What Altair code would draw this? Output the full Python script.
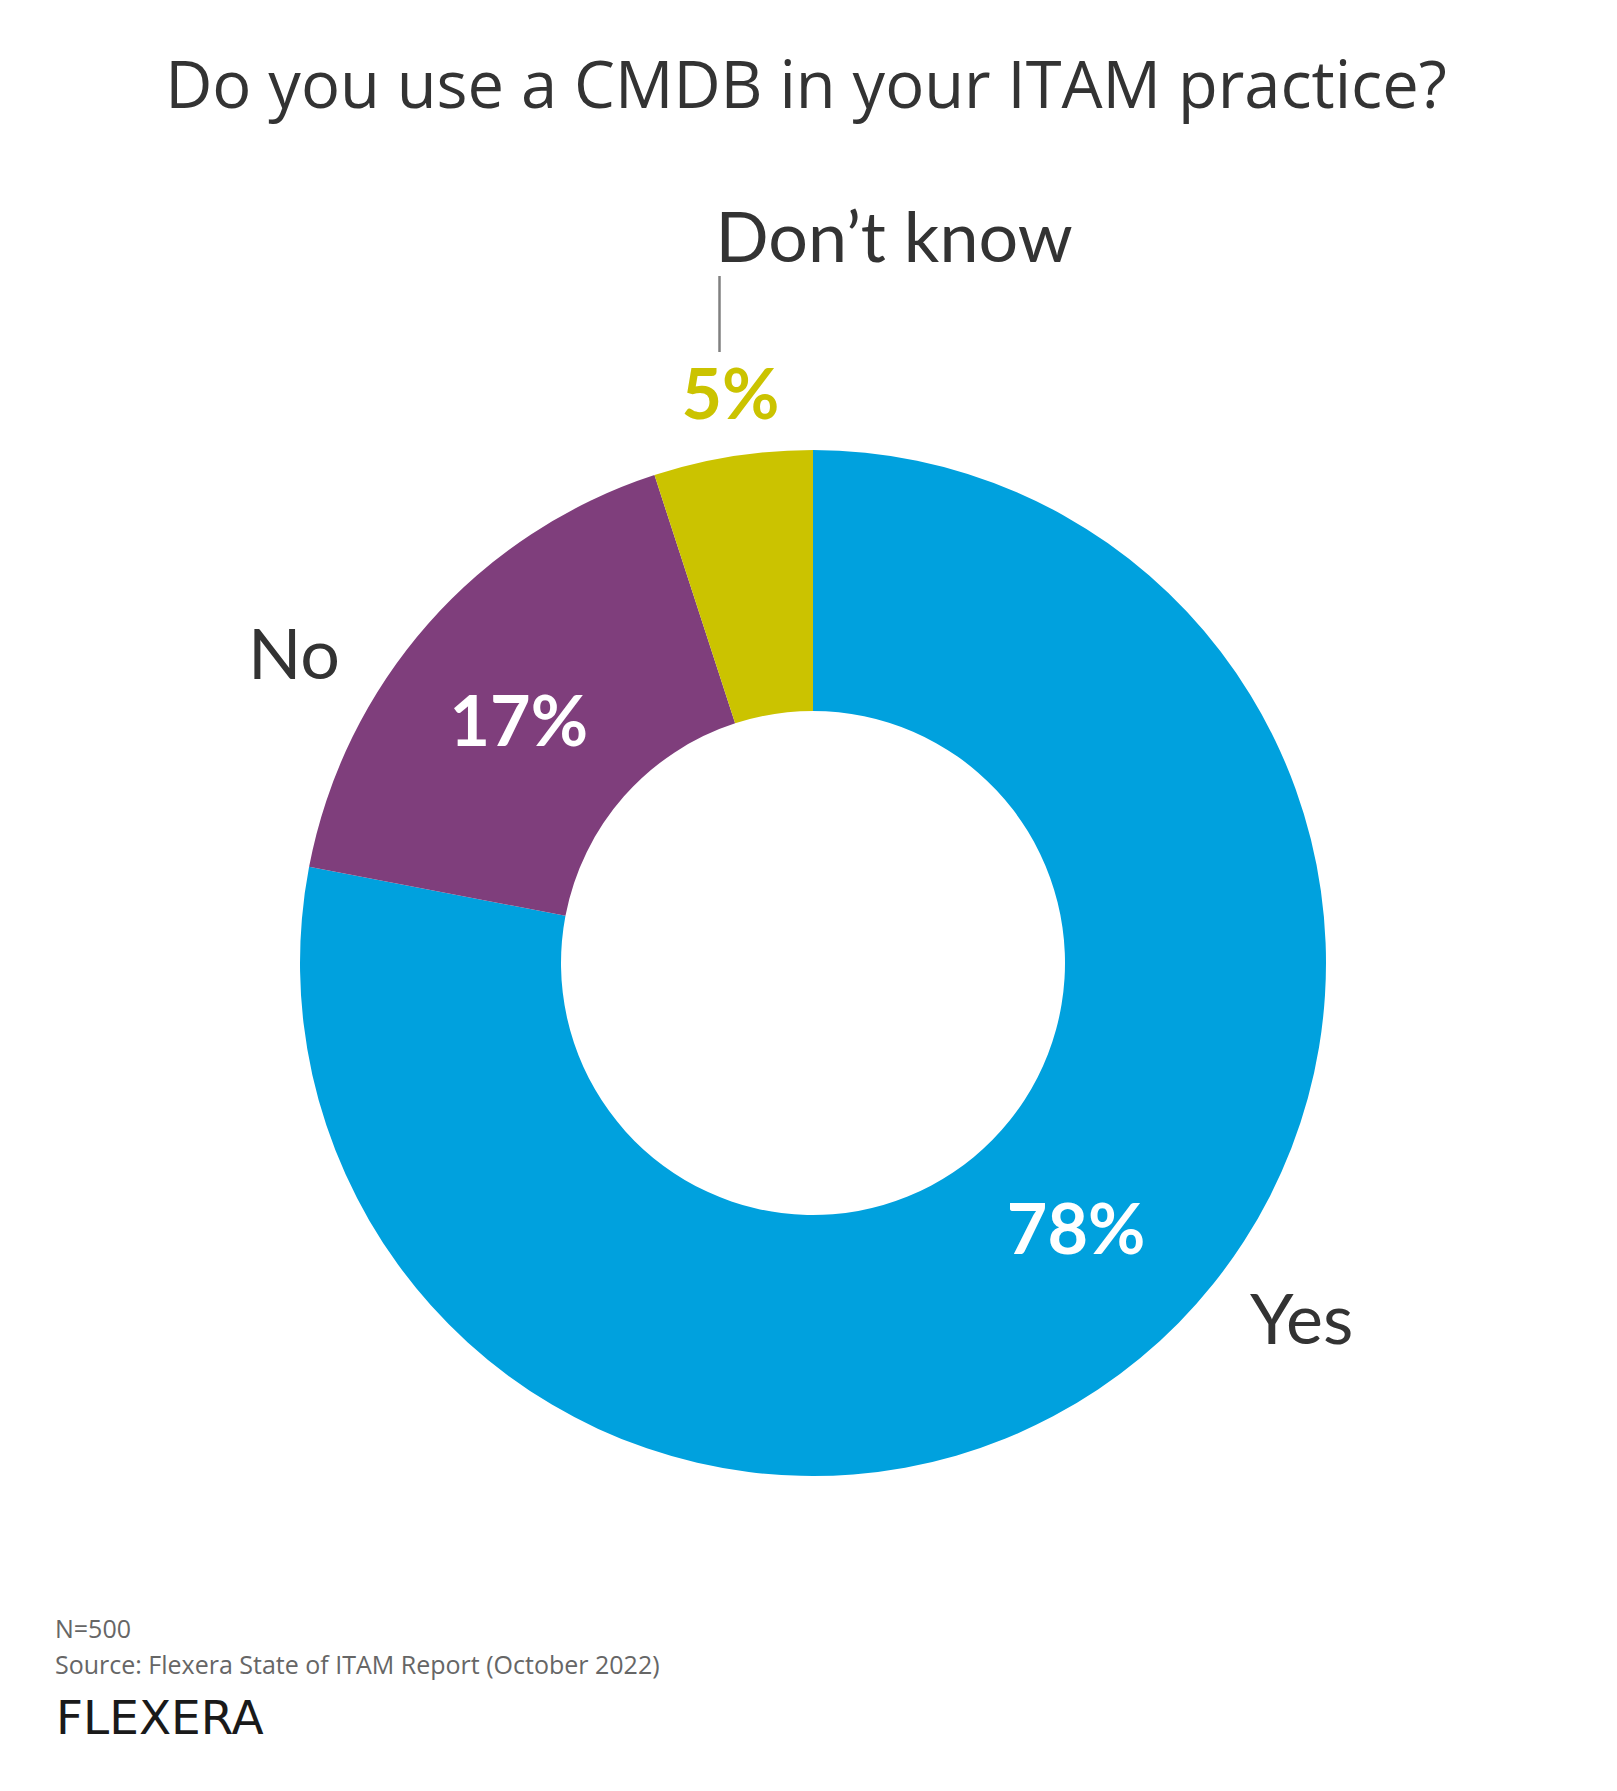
import altair as alt
import pandas as pd

# ---- data ----
categories = ["Yes", "No", "Don’t know"]
values = [78, 17, 5]
pct_labels = ["78%", "17%", "5%"]
colors = ["#00a1de", "#7f3e7c", "#cbc300"]

title_text = "Do you use a CMDB in your ITAM practice?"
footer_lines = ["N=500", "Source: Flexera State of ITAM Report (October 2022)"]
logo_text = "FLEXERA"

df = pd.DataFrame({
    "category": categories,
    "value": values,
    "pct": pct_labels,
    "idx": list(range(len(categories))),
})

W = H = 1026
FONT = "Lato"
DARK = "#333333"

color_scale = alt.Scale(domain=categories, range=colors)
theta_scale = alt.Scale(domain=[0, 100])

base = alt.Chart(df)

arcs = base.mark_arc(outerRadius=513, innerRadius=252).encode(
    theta=alt.Theta("value:Q", stack=True, scale=theta_scale),
    color=alt.Color("category:N", scale=color_scale, legend=None),
    order=alt.Order("idx:Q"),
)

mids = base.transform_window(
    cum="sum(value)", sort=[alt.SortField("idx")], frame=[None, 0]
).transform_calculate(mid="datum.cum - datum.value / 2")


def label(cat, text_field, radius, dx, dy, align, size, weight, color):
    return mids.transform_filter(alt.datum.category == cat).mark_text(
        radius=radius, dx=dx, dy=dy, align=align, baseline="alphabetic",
        font=FONT, fontSize=size, fontWeight=weight, color=color,
    ).encode(
        theta=alt.Theta("mid:Q", stack=None, scale=theta_scale),
        text=alt.Text(f"{text_field}:N"),
    )


pct_yes = label("Yes", "pct", 383, 19, -4, "center", 70, "bold", "white")
pct_no = label("No", "pct", 383, -7, 36, "center", 70, "bold", "white")
pct_dk = label("Don’t know", "pct", 560, 5, 9, "center", 70, "bold", colors[2])

cat_yes = label("Yes", "category", 560, 80, -50, "left", 70, "normal", DARK)
cat_no = label("No", "category", 560, -53, 86, "right", 70, "normal", DARK)
cat_dk = label("Don’t know", "category", 700, 12, -10, "left", 70, "normal", DARK)

leader = base.transform_filter(alt.datum.category == "Don’t know").mark_rule(
    color="#808080", strokeWidth=2.5
).encode(x=alt.value(419.5), y=alt.value(-174), y2=alt.value(-98))

title = alt.Chart(pd.DataFrame({"t": [title_text]})).mark_text(
    font="Open Sans", fontSize=65, color=DARK, align="center", baseline="alphabetic"
).encode(text="t:N", x=alt.value(506), y=alt.value(-342))

footer = alt.Chart(pd.DataFrame({"t": footer_lines, "i": [0, 1]})).mark_text(
    font="Open Sans", fontSize=25, color="#666666", align="left", baseline="alphabetic"
).encode(
    text="t:N",
    x=alt.value(-245),
    y=alt.Y("i:O", scale=alt.Scale(range=[1188, 1224], padding=0), axis=None),
)

logo = alt.Chart(pd.DataFrame({"t": [logo_text]})).mark_text(
    font="DejaVu Sans", fontSize=47, fontWeight="normal", color="#1a1a1a", align="left",
    baseline="alphabetic",
).encode(text="t:N", x=alt.value(-244), y=alt.value(1284))

chart = alt.layer(
    arcs, pct_yes, pct_no, pct_dk, cat_yes, cat_no, cat_dk, leader, title, footer, logo
).resolve_scale(y="independent").properties(
    width=W,
    height=H,
    padding={"left": 292, "top": 442, "right": 283, "bottom": 290},
    autosize=alt.AutoSizeParams(type="none"),
    background="white",
).configure_view(stroke=None)

chart.save("out.html", embed_options={"renderer": "svg", "actions": False})
